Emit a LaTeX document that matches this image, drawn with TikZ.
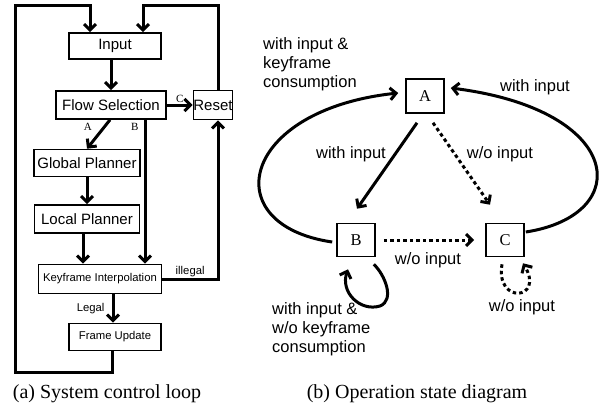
\documentclass[tikz,border=0pt]{standalone}
\usepackage{fontspec}
\setmainfont{Liberation Serif}
\setsansfont{Liberation Sans}
\usepackage{tikz}
\usetikzlibrary{arrows.meta,positioning,calc}
\tikzset{
  arr/.style={-{Straight Barb[length=6pt,width=12pt]},line width=3pt},
  dotarr/.style={arr,dash pattern=on 3.5pt off 3pt},
  box/.style={rectangle,draw,line width=1.6pt,inner sep=0pt,
    font=\sffamily\fontsize{15}{18}\selectfont},
  sbox/.style={box,font=\sffamily\fontsize{11.3}{13}\selectfont},
  st/.style={rectangle,draw,line width=1.6pt,minimum width=38pt,
    minimum height=34pt,font=\fontsize{16.5}{18}\selectfont},
  lbl/.style={font=\sffamily\fontsize{16.5}{19}\selectfont,inner sep=0pt},
  slbl/.style={font=\sffamily\fontsize{11.3}{13}\selectfont,inner sep=1pt},
  tag/.style={font=\fontsize{11}{12}\selectfont,inner sep=1pt},
  captxt/.style={font=\fontsize{20}{24}\selectfont},
}

\begin{document}
\begin{tikzpicture}[x=1pt,y=-1pt]
\useasboundingbox (0,0) rectangle (612,410);

% (a) control loop
\node[box,minimum width=92pt,minimum height=26pt] (input) at (115,46) {Input};
\node[box,minimum width=110pt,minimum height=28pt] (flow) at (111,105) {Flow Selection};
\node[box,minimum width=38pt,minimum height=29pt] (reset) at (213,105) {Reset};
\node[box,minimum width=106pt,minimum height=27pt] (global) at (87,163) {Global Planner};
\node[box,minimum width=105pt,minimum height=28pt] (local) at (87,219) {Local Planner};
\node[sbox,minimum width=123pt,minimum height=29pt] (keyframe) at (100,279) {Keyframe Interpolation};
\node[sbox,minimum width=92pt,minimum height=27pt] (frame) at (115,337) {Frame Update};

\draw[arr] ([xshift=-3pt]frame.south) -- ++(0,21.5) -| (15,5) -| ([xshift=-25pt]input.north);
\draw[arr] ([xshift=5pt]reset.north) |- (143,5) -- ([xshift=28pt]input.north);
\draw[arr] (flow.north |- input.south) -- (flow.north);
\draw[arr] (flow.east) -- node[tag,above]{C} (reset.west);
\draw[arr] ([xshift=-1pt]flow.south) -- node[tag,pos=0.25,left=10pt]{A} (global.north);
\draw[arr] ([xshift=34pt]flow.south) -- node[tag,pos=0.05,left=4pt]{B} ([xshift=34pt]flow.south |- keyframe.north);
\draw[arr] (global.south) -- (local.north);
\draw[arr] ([xshift=-4pt]local.south) -- ([xshift=-4pt]local.south |- keyframe.north);
\draw[arr] (keyframe.east) -| node[slbl,pos=0.25,above]{illegal} ([xshift=5pt]reset.south);
\draw[arr] ([xshift=-2pt]frame.north |- keyframe.south) -- node[slbl,left=6pt]{Legal} ([xshift=-2pt]frame.north);

\node[captxt] (capa) at (107,394) {(a) System control loop};

% (b) states
\node[st] (A) at (425,96) {A};
\node[st,minimum height=33pt] (B) at (356,240) {B};
\node[st,minimum height=33pt] (C) at (505,240) {C};

\draw[arr] ([shift={(-8,9)}]A.south) -- ([shift={(1,-14)}]B.north);
\draw[dotarr] ([shift={(8,9)}]A.south) -- ([shift={(-15,-18)}]C.north);
\draw[dotarr] ([xshift=8pt]B.east) -- ([xshift=-11pt]C.west);
\draw[arr] ([shift={(-4,2)}]B.west) .. controls (215,225) and (240,110) .. ([shift={(-7,-3)}]A.west);
\draw[arr] ([shift={(1,-8)}]C.east) .. controls (635,215) and (625,110) .. ([shift={(6,-8)}]A.east);
\draw[arr] ([shift={(-2,7)}]B.south east) .. controls (385,275) and (395,300) .. (380,306)
  .. controls (360,312) and (340,292) .. ([shift={(-8,12)}]B.south);
\draw[dotarr] ([shift={(-3,7)}]C.south) .. controls (495,305) and (545,300) .. ([shift={(18,6)}]C.south);

\node[lbl,align=left,anchor=west] (lkc) at (263,64) {with input \&\\keyframe\\consumption};
\node[lbl] (lab) at (351,154) {with input};
\node[lbl] (lac) at (500,154) {w/o input};
\node[lbl] (lca) at (535,87) {with input};
\node[lbl] (lbc) at (428,260) {w/o input};
\node[lbl] (lcc) at (522,307) {w/o input};
\node[lbl,align=left,anchor=west] (lbb) at (272,329) {with input \&\\w/o keyframe\\consumption};

\node[captxt] (capb) at (417,394) {(b) Operation state diagram};
\end{tikzpicture}
\end{document}
